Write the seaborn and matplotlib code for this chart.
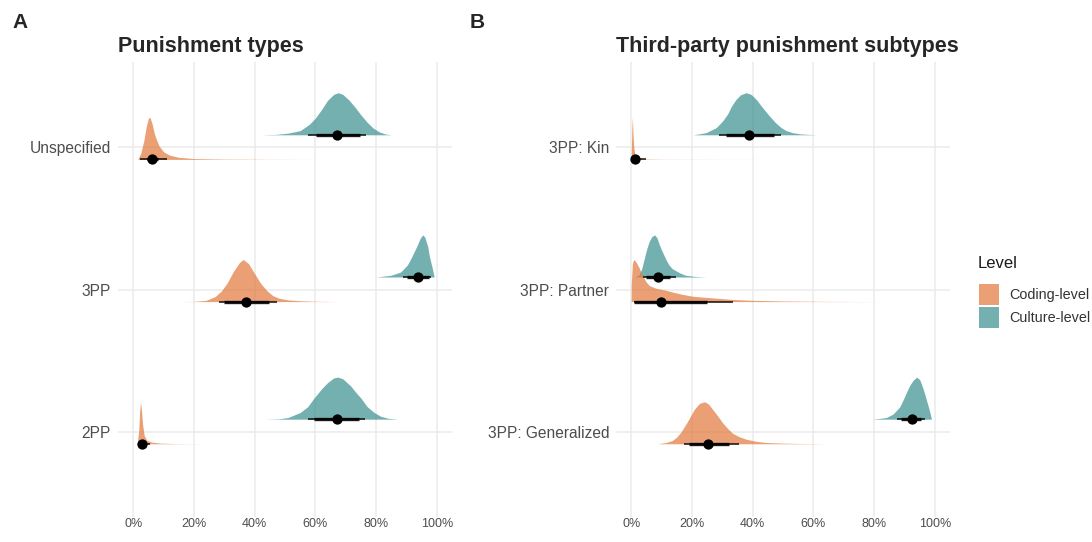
import numpy as np
import pandas as pd
import seaborn as sns
import matplotlib.pyplot as plt
from matplotlib.patches import Patch

# ---- data (percent values) ----
levels = ["Coding-level", "Culture-level"]
rows_a = ["Unspecified", "3PP", "2PP"]
rows_b = ["3PP: Kin", "3PP: Partner", "3PP: Generalized"]

# density outlines: x in %, h = height relative to the peak
a_unspec_cult_x = [42, 47, 51, 55, 58, 60, 62, 64, 66, 67.5, 69, 71, 73, 75, 77, 79, 81, 83, 85]
a_unspec_cult_h = [0, 0.01, 0.04, 0.1, 0.25, 0.4, 0.6, 0.82, 0.96, 1.0, 0.96, 0.83, 0.66, 0.47, 0.3, 0.16, 0.07, 0.02, 0]
a_unspec_code_x = [1.5, 2.5, 3.5, 4.2, 5.0, 5.5, 6.2, 7.0, 7.5, 8.5, 10, 12, 15, 20, 30, 45, 60]
a_unspec_code_h = [0, 0.15, 0.45, 0.75, 0.98, 1.0, 0.85, 0.6, 0.5, 0.32, 0.18, 0.1, 0.05, 0.02, 0.008, 0.003, 0]
a_3pp_cult_x = [80, 84.8, 86.5, 88.1, 90.3, 91.5, 92.5, 93.5, 94.5, 95.3, 96, 97, 97.5, 98.5, 99.1]
a_3pp_cult_h = [0, 0.04, 0.08, 0.12, 0.29, 0.45, 0.6, 0.75, 0.92, 1.0, 0.95, 0.72, 0.5, 0.2, 0]
a_3pp_code_x = [15, 20, 24, 27, 29, 31, 33, 35, 36.2, 38, 40, 42, 44, 46, 48, 51, 55, 60, 68]
a_3pp_code_h = [0, 0.005, 0.03, 0.12, 0.25, 0.45, 0.72, 0.93, 1.0, 0.9, 0.66, 0.43, 0.26, 0.14, 0.08, 0.04, 0.02, 0.008, 0]
a_2pp_cult_x = [43, 48, 51, 55, 57.5, 59.5, 62, 64, 66, 67.4, 69, 71.6, 73.5, 75, 77, 79.3, 81.5, 84, 87]
a_2pp_cult_h = [0, 0.01, 0.04, 0.16, 0.3, 0.5, 0.72, 0.87, 0.98, 1.0, 0.96, 0.79, 0.62, 0.5, 0.3, 0.16, 0.07, 0.02, 0]
a_2pp_code_x = [1.3, 1.8, 2.1, 2.4, 2.7, 3.1, 3.6, 4.5, 6, 9, 14, 24]
a_2pp_code_h = [0, 0.3, 0.75, 1.0, 0.8, 0.45, 0.2, 0.08, 0.04, 0.015, 0.005, 0]

b_kin_cult_x = [20.5, 24.6, 28, 30, 31.8, 33, 34.5, 36, 37.8, 39.5, 41.2, 43, 45.5, 47.5, 49.4, 51, 53.2, 56, 61]
b_kin_cult_h = [0, 0.05, 0.17, 0.32, 0.5, 0.68, 0.84, 0.95, 1.0, 0.96, 0.84, 0.67, 0.45, 0.29, 0.17, 0.1, 0.05, 0.02, 0]
b_kin_code_x = [0.0, 0.2, 0.4, 0.6, 0.9, 1.3, 2, 4, 10, 30, 45]
b_kin_code_h = [0, 0.7, 1.0, 0.6, 0.25, 0.1, 0.04, 0.01, 0.003, 0.001, 0]
b_partner_cult_x = [1.2, 2.6, 3.5, 4.3, 5.1, 5.9, 6.8, 7.7, 8.5, 9.2, 10, 10.9, 11.7, 12.5, 13.5, 14.7, 16.2, 18, 21, 24.6]
b_partner_cult_h = [0, 0.05, 0.2, 0.44, 0.66, 0.84, 0.96, 1.0, 0.93, 0.78, 0.64, 0.5, 0.38, 0.28, 0.2, 0.15, 0.09, 0.04, 0.015, 0]
b_partner_code_x = [0, 0.01, 0.4, 0.8, 1.5, 2.5, 3.7, 5, 6, 8, 11.4, 14, 17, 20, 24.6, 30, 33.4, 40, 50, 65, 83]
b_partner_code_h = [0, 0.4, 0.9, 1.0, 0.95, 0.82, 0.62, 0.46, 0.38, 0.32, 0.27, 0.22, 0.17, 0.13, 0.1, 0.07, 0.05, 0.03, 0.015, 0.005, 0]
b_gen_cult_x = [79.6, 82, 84, 86.2, 88.4, 89.5, 90.6, 91.7, 92.8, 94, 95, 95.6, 96.5, 97.2, 97.8, 98.4, 98.9]
b_gen_cult_h = [0, 0.02, 0.04, 0.12, 0.29, 0.45, 0.63, 0.8, 0.92, 1.0, 0.94, 0.83, 0.64, 0.46, 0.31, 0.15, 0]
b_gen_code_x = [8.7, 11.5, 13.6, 15, 16.4, 18.3, 20.8, 22.5, 24.2, 25.5, 26.8, 28.5, 30.1, 31.8, 33.4, 35.5, 37.8, 41, 44.5, 50, 55.4, 65]
b_gen_code_h = [0, 0.03, 0.08, 0.16, 0.28, 0.5, 0.82, 0.96, 1.0, 0.94, 0.82, 0.66, 0.5, 0.36, 0.25, 0.17, 0.11, 0.06, 0.03, 0.015, 0.008, 0]

# point estimate, inner interval, outer interval (per row: coding, culture)
a_point = {"Coding-level": [6.2, 37.2, 2.9], "Culture-level": [67.2, 93.8, 67.1]}
a_inner = {"Coding-level": [(4.5, 8.0), (30.0, 44.7), (2.2, 3.8)],
           "Culture-level": [(60.1, 74.7), (90.3, 97.5), (59.5, 74.4)]}
a_outer = {"Coding-level": [(2.1, 11.1), (28.2, 47.4), (1.6, 5.5)],
           "Culture-level": [(57.5, 76.6), (88.7, 98.0), (57.5, 76.3)]}
b_point = {"Coding-level": [1.2, 9.9, 25.4], "Culture-level": [38.9, 8.7, 92.5]}
b_inner = {"Coding-level": [(0.5, 2.5), (1.0, 24.9), (18.9, 32.3)],
           "Culture-level": [(31.2, 46.9), (4.8, 12.8), (89.0, 95.6)]}
b_outer = {"Coding-level": [(0.2, 4.8), (1.0, 33.4), (17.5, 35.4)],
           "Culture-level": [(29.0, 49.4), (4.0, 14.7), (87.4, 96.7)]}

a_slabs = {"Coding-level": [(a_unspec_code_x, a_unspec_code_h), (a_3pp_code_x, a_3pp_code_h), (a_2pp_code_x, a_2pp_code_h)],
           "Culture-level": [(a_unspec_cult_x, a_unspec_cult_h), (a_3pp_cult_x, a_3pp_cult_h), (a_2pp_cult_x, a_2pp_cult_h)]}
b_slabs = {"Coding-level": [(b_kin_code_x, b_kin_code_h), (b_partner_code_x, b_partner_code_h), (b_gen_code_x, b_gen_code_h)],
           "Culture-level": [(b_kin_cult_x, b_kin_cult_h), (b_partner_cult_x, b_partner_cult_h), (b_gen_cult_x, b_gen_cult_h)]}

colors = {"Coding-level": "#E2773A", "Culture-level": "#3A8F8F"}
offset = {"Coding-level": 0.085, "Culture-level": -0.088}
slab_h = 0.296

sns.set_theme(style="whitegrid")
plt.rcParams["font.family"] = ["Liberation Sans", "DejaVu Sans"]

fig = plt.figure(figsize=(10.92, 5.42), dpi=100)
ax_a = fig.add_axes([0.1081, 0.0461, 0.3059, 0.8395])
ax_b = fig.add_axes([0.5641, 0.0461, 0.3059, 0.8395])


def draw_panel(ax, rows, slabs, point, inner, outer, title):
    for lev in ["Culture-level", "Coding-level"]:
        for i in range(len(rows)):
            base = i + offset[lev]
            x, h = slabs[lev][i]
            ax.fill_between(x, base, base - np.array(h) * slab_h,
                            color=colors[lev], alpha=0.7, lw=0, zorder=2)
    for lev in ["Culture-level", "Coding-level"]:
        for i in range(len(rows)):
            base = i + offset[lev]
            ax.plot(outer[lev][i], [base, base], color="black", lw=1.2, alpha=0.85,
                    solid_capstyle="butt", zorder=3)
            ax.plot(inner[lev][i], [base, base], color="black", lw=2.4, alpha=0.9,
                    solid_capstyle="butt", zorder=3)
        pts = pd.DataFrame({"x": point[lev],
                            "y": [i + offset[lev] for i in range(len(rows))]})
        sns.scatterplot(data=pts, x="x", y="y", ax=ax, color="black", s=55,
                        linewidth=0, zorder=4, legend=False)
    ax.set_xlim(-5, 105)
    ax.set_ylim(2.6, -0.6)
    ax.set_yticks(range(len(rows)))
    ax.set_yticklabels(rows)
    ax.set_xticks([0, 20, 40, 60, 80, 100])
    ax.set_xticklabels([f"{v}%" for v in [0, 20, 40, 60, 80, 100]])
    ax.set_xlabel("")
    ax.set_ylabel("")
    ax.set_facecolor("white")
    for s in ax.spines.values():
        s.set_visible(False)
    ax.grid(True, color="#EBEBEB", lw=1.1)
    ax.tick_params(axis="y", labelsize=11.2, labelcolor="#4D4D4D", pad=5, length=0)
    ax.tick_params(axis="x", labelsize=9, labelcolor="#4D4D4D", pad=1, length=0)
    ax.set_title(title, loc="left", fontsize=15.5, fontweight="bold", pad=7)


draw_panel(ax_a, rows_a, a_slabs, a_point, a_inner, a_outer, "Punishment types")
draw_panel(ax_b, rows_b, b_slabs, b_point, b_inner, b_outer, "Third-party punishment subtypes")

fig.text(12 / 1092, 1 - 22 / 542, "A", fontsize=15, fontweight="bold", va="center", ha="left")
fig.text(470 / 1092, 1 - 22 / 542, "B", fontsize=15, fontweight="bold", va="center", ha="left")

# legend: title as its own text, keys below
fig.text(978 / 1092, 1 - 263 / 542, "Level", fontsize=12, va="center", ha="left", color="#1A1A1A")
handles = [Patch(facecolor=colors[l], alpha=0.7, edgecolor="none") for l in levels]
leg = fig.legend(handles, levels, loc="upper left",
                 bbox_to_anchor=(966 / 1092, 1 - 271 / 542), frameon=False,
                 fontsize=10.4, handlelength=1.35, handleheight=1.9,
                 handletextpad=0.75, labelspacing=0.12)
for t in leg.get_texts():
    t.set_color("#333333")

fig.savefig("out.png", dpi=100, facecolor="white")
